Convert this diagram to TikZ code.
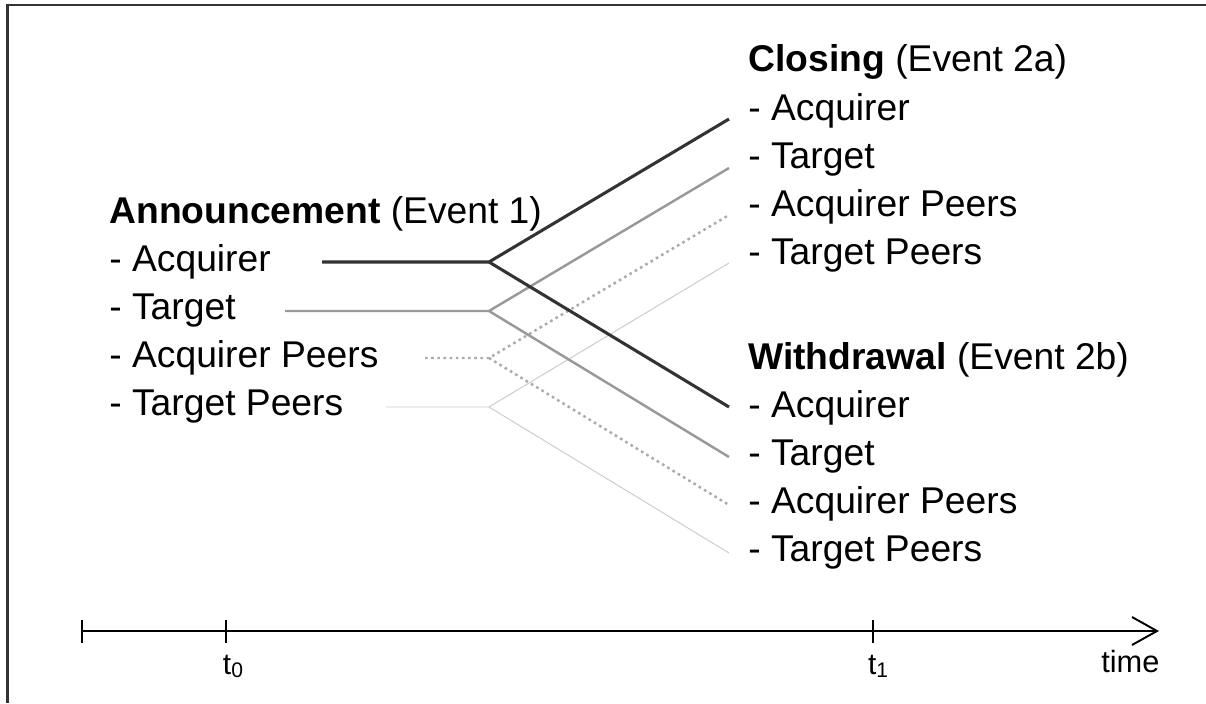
\documentclass[tikz,border=0pt]{standalone}
\usepackage{fontspec}
\setmainfont{Liberation Sans}
\begin{document}
\begin{tikzpicture}[x=0.02cm,y=-0.02cm,
  lbl/.style={anchor=base west, inner sep=0pt, font=\fontsize{21.2pt}{25pt}\selectfont},
  tlbl/.style={anchor=base, inner sep=0pt, font=\fontsize{17pt}{20pt}\selectfont},
  acqline/.style={draw=black!80, line width=1.75pt, line join=miter},
  tgtline/.style={draw=black!40, line width=1.4pt},
  apline/.style={draw=black!33, line width=1.4pt, dash pattern=on 1.5pt off 2pt},
  tpline/.style={draw=black!20, line width=0.55pt},
  axis/.style={draw=black, line width=1.1pt},
  frame/.style={draw=black!80, line width=1.7pt}]
\useasboundingbox (0,0) rectangle (1206,703);
% frame (top and left)
\draw[frame] (1206,5) -- (7.5,5) -- (7.5,703);

% left labels
\node[lbl] (ann) at (109,223) {\textbf{Announcement} (Event 1)};
\node[lbl] (la) at (109,271) {- Acquirer};
\node[lbl] (lt) at (109,319) {- Target};
\node[lbl] (lap) at (109,367) {- Acquirer Peers};
\node[lbl] (ltp) at (109,415) {- Target Peers};

% right labels
\node[lbl] (clo) at (748,71) {\textbf{Closing} (Event 2a)};
\node[lbl] (ca) at (748,120) {- Acquirer};
\node[lbl] (ct) at (748,168) {- Target};
\node[lbl] (cap) at (748,216) {- Acquirer Peers};
\node[lbl] (ctp) at (748,264) {- Target Peers};
\node[lbl] (wd) at (748,369) {\textbf{Withdrawal} (Event 2b)};
\node[lbl] (wa) at (748,417) {- Acquirer};
\node[lbl] (wt) at (748,465) {- Target};
\node[lbl] (wap) at (748,513) {- Acquirer Peers};
\node[lbl] (wtp) at (748,561) {- Target Peers};

% coordinates
\coordinate (sa) at (322,262);  \coordinate (fa) at (489,262);
\coordinate (st) at (285,311);  \coordinate (ft) at (489,311);
\coordinate (sap) at (425,358); \coordinate (fap) at (489,358);
\coordinate (stp) at (386,407); \coordinate (ftp) at (489,407);
\coordinate (ea1) at (729,119); \coordinate (ea2) at (729,407);
\coordinate (et1) at (729,168); \coordinate (et2) at (729,457);
\coordinate (eap1) at (729,215); \coordinate (eap2) at (729,505);
\coordinate (etp1) at (729,263); \coordinate (etp2) at (729,553);

% branches (lighter first)
\draw[tpline] (stp) -- (ftp) -- (etp1);
\draw[tpline] (ftp) -- (etp2);
\draw[apline] (sap) -- (fap) -- (eap1);
\draw[apline] (fap) -- (eap2);
\draw[tgtline] (st) -- (ft) -- (et1);
\draw[tgtline] (ft) -- (et2);
\draw[acqline] (sa) -- (fa) -- (ea1);
\draw[acqline] (fa) -- (ea2);

% time axis
\coordinate (ax0) at (82,631);
\coordinate (ax1) at (1157,631);
\coordinate (tz) at (226,631);
\coordinate (to) at (873,631);
\draw[axis] (ax0) -- (ax1);
\draw[axis] (1132,617) -- (ax1) -- (1132,645);
\draw[axis] (82,620) -- (82,643);
\draw[axis] (226,620) -- (226,643);
\draw[axis] (873,620) -- (873,643);
\node[tlbl] (t0) at (233,674) {t\raisebox{-0.25ex}{\fontsize{12pt}{14pt}\selectfont 0}};
\node[tlbl] (t1) at (878,674) {t\raisebox{-0.25ex}{\fontsize{12pt}{14pt}\selectfont 1}};
\node[lbl, font=\fontsize{17.5pt}{20pt}\selectfont] (time) at (1101,672) {time};
\end{tikzpicture}
\end{document}
